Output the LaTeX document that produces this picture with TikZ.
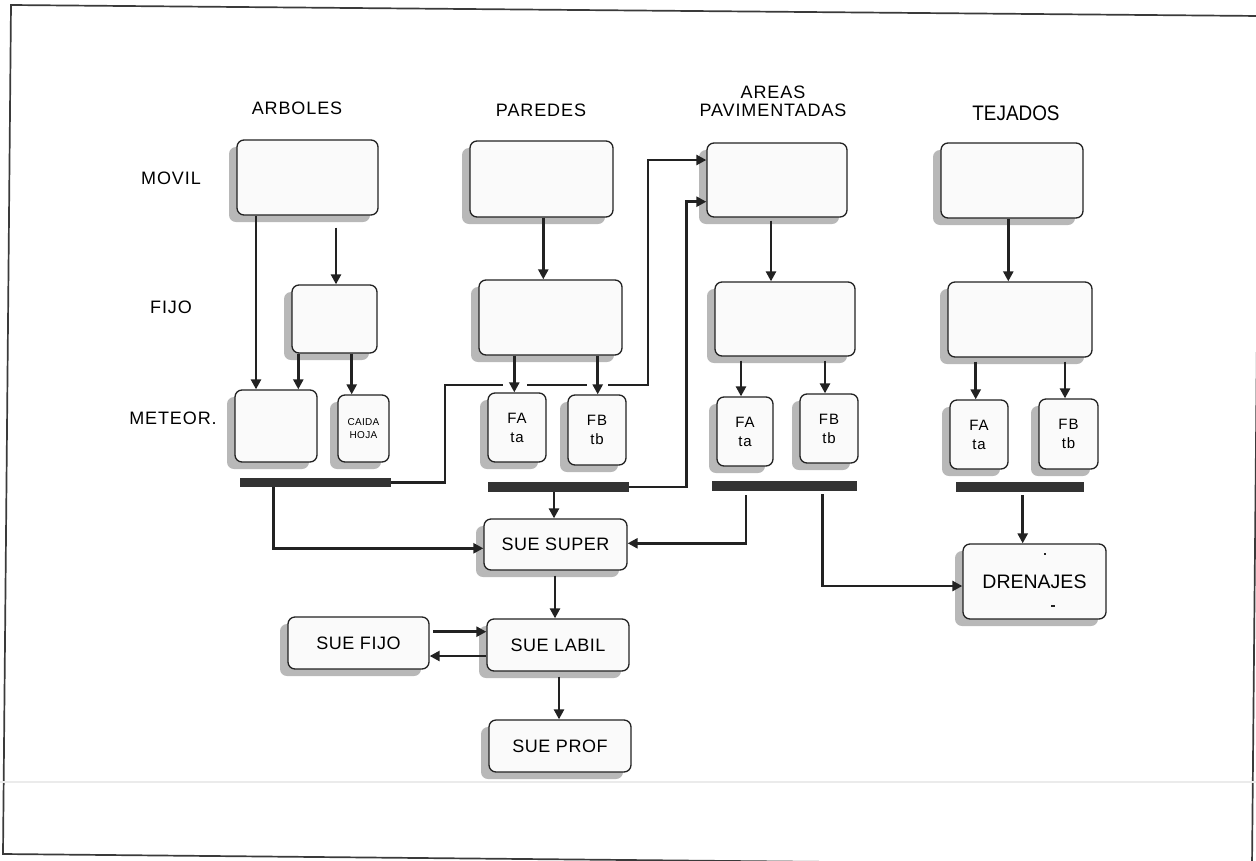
\documentclass[tikz,border=0pt]{standalone}
\usepackage{fontspec}
\setmainfont{Liberation Sans}
\newfontfamily\hdfont{Liberation Sans}[LetterSpace=5]
\newfontfamily\bxfont{Liberation Sans}[LetterSpace=3]
\newfontfamily\smfont{Liberation Sans}[LetterSpace=6]
\newfontfamily\tinyfont{Liberation Sans}[LetterSpace=3]
\newfontfamily\plainfont{Liberation Sans}
\usetikzlibrary{arrows.meta,shadows}
\definecolor{ink}{HTML}{222222}
\definecolor{shgray}{HTML}{B8B8B8}
\definecolor{boxfill}{HTML}{FAFAFA}
\definecolor{barcol}{HTML}{333333}
\definecolor{framecol}{HTML}{3A3A3A}
\definecolor{faint}{HTML}{EBEBEB}
\begin{document}
\begin{tikzpicture}[x=1pt,y=-1pt,
  box/.style={draw=ink, line width=1.3pt, rounded corners=7pt, fill=boxfill,
    inner sep=0pt, align=center,
    drop shadow={shadow xshift=-8pt, shadow yshift=-7pt, fill=shgray, opacity=1}},
  sz/.style 2 args={minimum width=#1pt, minimum height=#2pt},
  bar/.style={fill=barcol, draw=none, inner sep=0pt},
  arr/.style={draw=ink, line width=2.5pt, -{Triangle[length=10pt,width=10pt]}},
  hd/.style={font=\hdfont\fontsize{18}{20}\selectfont, inner sep=0pt, align=center},
  bx/.style={font=\bxfont\fontsize{18}{21}\selectfont},
  fab/.style={font=\smfont\fontsize{15}{19}\selectfont},
  tny/.style={font=\tinyfont\fontsize{10}{12.5}\selectfont},
]
\useasboundingbox (0,0) rectangle (1256,860);
\begin{scope}
\clip (0,0) rectangle (1256,860);
\draw[framecol, line width=1.7pt] (11,5) -- (1260,16) -- (1252,866) -- (3,854) -- cycle;
\draw[faint, line width=2pt] (0,782) -- (1256,782);
\end{scope}

% headings
\node[hd] (hArb) at (297,108) {ARBOLES};
\node[hd] (hPar) at (541,110) {PAREDES};
\node[hd] (hAre) at (773,101) {AREAS\\[-2pt]PAVIMENTADAS};
\node[inner sep=0pt, font=\plainfont\fontsize{21}{24}\selectfont] (hTej) at (1016,113) {\scalebox{0.9}[1]{TEJADOS}};
\node[hd] (rMov) at (171,178) {MOVIL};
\node[hd] (rFij) at (171,307) {FIJO};
\node[hd] (rMet) at (173,418) {METEOR.};

% arboles
\node[box, sz={141}{75}] (am) at (307.5,177.5) {};
\node[box, sz={85}{68}] (af) at (334.5,319) {};
\node[box, sz={82}{72}] (ame) at (276,426) {};
\node[box, sz={51}{67}, tny] (ach) at (363.5,428.5) {CAIDA\\HOJA};
% paredes
\node[box, sz={143}{76}] (pm) at (541.5,179) {};
\node[box, sz={143}{75}] (pf) at (550.5,317.5) {};
\node[box, sz={58}{69}, fab] (pa) at (517,427.5) {FA\\ta};
\node[box, sz={58}{70}, fab] (pb) at (597,430) {FB\\tb};
% areas pavimentadas
\node[box, sz={140}{74}] (vm) at (777,180) {};
\node[box, sz={140}{74}] (vf) at (785,319) {};
\node[box, sz={56}{69}, fab] (va) at (745,431.5) {FA\\ta};
\node[box, sz={58}{69}, fab] (vb) at (829,428.5) {FB\\tb};
% tejados
\node[box, sz={142}{75}] (tm) at (1012,180.5) {};
\node[box, sz={144}{75}] (tf) at (1020,319.5) {};
\node[box, sz={58}{69}, fab] (ta) at (979,434.5) {FA\\ta};
\node[box, sz={59}{70}, fab] (tb) at (1068.5,434) {FB\\tb};

% bars
\node[bar, sz={151}{9}] (b1) at (315.5,482.5) {};
\node[bar, sz={141}{10}] (b2) at (558.5,487) {};
\node[bar, sz={145}{10}] (b3) at (784.5,486) {};
\node[bar, sz={128}{10}] (b4) at (1020,487) {};

% lower boxes
\node[box, sz={143}{51}, bx] (super) at (555.5,544.5) {SUE SUPER};
\node[box, sz={142}{52}, bx] (labil) at (558,645) {SUE LABIL};
\node[box, sz={141}{52}, bx] (sfijo) at (358.5,643) {SUE FIJO};
\node[box, sz={142}{52}, bx] (prof) at (560,746) {SUE PROF};
\node[box, sz={143}{75}, font=\plainfont\fontsize{19.5}{22}\selectfont] (dren) at (1034.5,581.5) {DRENAJES};
\fill[ink] (1044,553) rectangle (1046,555);
\fill[ink] (1051,605) rectangle (1055,607);

% crossing routes
\draw[arr] (b1.east) -| (445,385) -| (648,160) -- ([yshift=20pt]vm.west);
\draw[arr] (b2.east) -| (686.7,201.7) -- ([yshift=-21.7pt]vm.west);
\draw[white, line width=5pt] (503,385) -- (527,385);
\draw[white, line width=5pt] (587,385) -- (608,385);

% arboles arrows
\draw[arr] ([xshift=28.5pt,yshift=-12pt]am.south) -- ([xshift=1.5pt]af.north);
\draw[arr] ([xshift=-51.5pt]am.south) -- ([xshift=-20pt]ame.north);
\draw[arr] ([xshift=-36.2pt]af.south) -- ([xshift=22.3pt]ame.north);
\draw[arr] ([xshift=17.2pt]af.south) -- ([xshift=-11.8pt]ach.north);
% paredes arrows
\draw[arr] ([xshift=1.8pt]pm.south) -- ([xshift=-7.2pt]pf.north);
\draw[arr] ([xshift=-36.2pt]pf.south) -- ([xshift=-2.7pt]pa.north);
\draw[arr] ([xshift=47.2pt]pf.south) -- ([xshift=0.7pt]pb.north);
% paved arrows
\draw[arr] ([xshift=-6pt,yshift=-3pt]vm.south) -- ([xshift=-14pt]vf.north);
\draw[arr] ([xshift=-44pt,yshift=-4pt]vf.south) -- ([xshift=-4pt]va.north);
\draw[arr] ([xshift=40pt,yshift=-4pt]vf.south) -- ([xshift=-4pt]vb.north);
% tejados arrows
\draw[arr] ([xshift=-3.7pt]tm.south) -- ([xshift=-11.7pt]tf.north);
\draw[arr] ([xshift=-44.3pt,yshift=-4pt]tf.south) -- ([xshift=-3.3pt]ta.north);
\draw[arr] ([xshift=45pt,yshift=-4pt]tf.south) -- ([xshift=-3.5pt]tb.north);

% bars to lower boxes
\draw[arr] ([xshift=-42.2pt]b1.south) |- ([yshift=-3.8pt]super.west);
\draw[arr] ([xshift=-4.5pt]b2.south) -- ([xshift=-1.5pt]super.north);
\draw[arr] ([xshift=-38.5pt,yshift=-4pt]b3.south) |- ([yshift=1.2pt]super.east);
\draw[arr] ([xshift=38.2pt,yshift=-3pt]b3.south) |- ([yshift=-4.5pt]dren.west);
\draw[arr] ([xshift=2.7pt,yshift=-3pt]b4.south) -- ([xshift=-11.8pt]dren.north);

% sue flow
\draw[arr] ([xshift=-0.5pt,yshift=-5pt]super.south) -- ([xshift=-3pt]labil.north);
\draw[arr] ([xshift=3.5pt,yshift=11.3pt]sfijo.east) -- ([yshift=13.3pt]labil.west);
\draw[arr] ([yshift=-11pt]labil.west) -- ([yshift=-13pt]sfijo.east);
\draw[arr] ([xshift=1pt,yshift=-5pt]labil.south) -- ([xshift=-1pt]prof.north);
\end{tikzpicture}
\end{document}
